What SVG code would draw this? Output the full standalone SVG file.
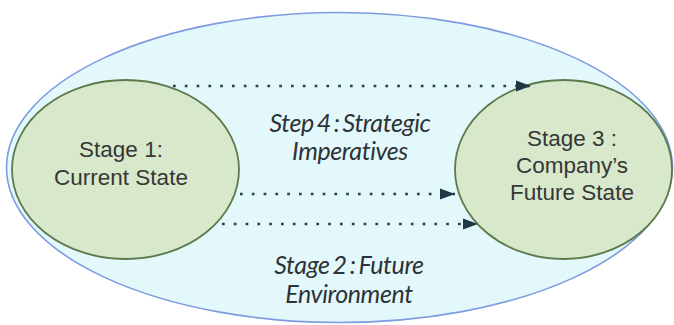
<svg xmlns="http://www.w3.org/2000/svg" width="674" height="325" viewBox="0 0 674 325">
  <style>
    .frame { fill: #e3f8fb; stroke: #7d9be0; stroke-width: 1.6; }
    .stage { fill: #d8e8cb; stroke: #5c7a4c; stroke-width: 1.8; }
    .label { font-family: "Liberation Sans", Arial, sans-serif; font-size: 22.5px; fill: #363636; text-anchor: middle; }
    .step { font-family: Lato, "Open Sans", sans-serif; font-style: italic; font-size: 25px; letter-spacing: -0.4px; word-spacing: -2.5px; fill: #2e3337; text-anchor: middle; }
    .flow { fill: none; stroke: #27404a; stroke-width: 2.7; stroke-dasharray: 2.7 9.1; }
  </style>
  <defs>
    <marker id="head" markerUnits="userSpaceOnUse" markerWidth="16" markerHeight="12" refX="15" refY="6" orient="auto">
      <path d="M0,0.5 L15,6 L0,11.5 Z" fill="#1f3944"/>
    </marker>
  </defs>

  <rect width="674" height="325" fill="#ffffff"/>

  <!-- enclosing context -->
  <g id="context">
    <ellipse class="frame" cx="339.5" cy="167.5" rx="333" ry="155"/>
  </g>

  <g id="stage1">
    <ellipse class="stage" cx="125.5" cy="169.5" rx="113.5" ry="89.5"/>
    <text class="label" x="121" y="157">Stage 1:</text>
    <text class="label" x="121" y="185">Current State</text>
  </g>

  <g id="stage3">
    <ellipse class="stage" cx="563.5" cy="169.5" rx="108.5" ry="89.5"/>
    <text class="label" x="572" y="146">Stage 3 :</text>
    <text class="label" x="572" y="173">Company’s</text>
    <text class="label" x="572" y="200">Future State</text>
  </g>

  <g id="connectors">
    <line class="flow" x1="173" y1="86" x2="531" y2="86" marker-end="url(#head)"/>
    <line class="flow" x1="240" y1="194" x2="455" y2="194" marker-end="url(#head)"/>
    <line class="flow" x1="222" y1="224" x2="478" y2="224" marker-end="url(#head)"/>
  </g>

  <g id="step4">
    <text class="step" x="350" y="132">Step 4 : Strategic</text>
    <text class="step" x="350" y="160">Imperatives</text>
  </g>

  <g id="stage2">
    <text class="step" x="349" y="274">Stage 2 : Future</text>
    <text class="step" x="349" y="303">Environment</text>
  </g>
</svg>
